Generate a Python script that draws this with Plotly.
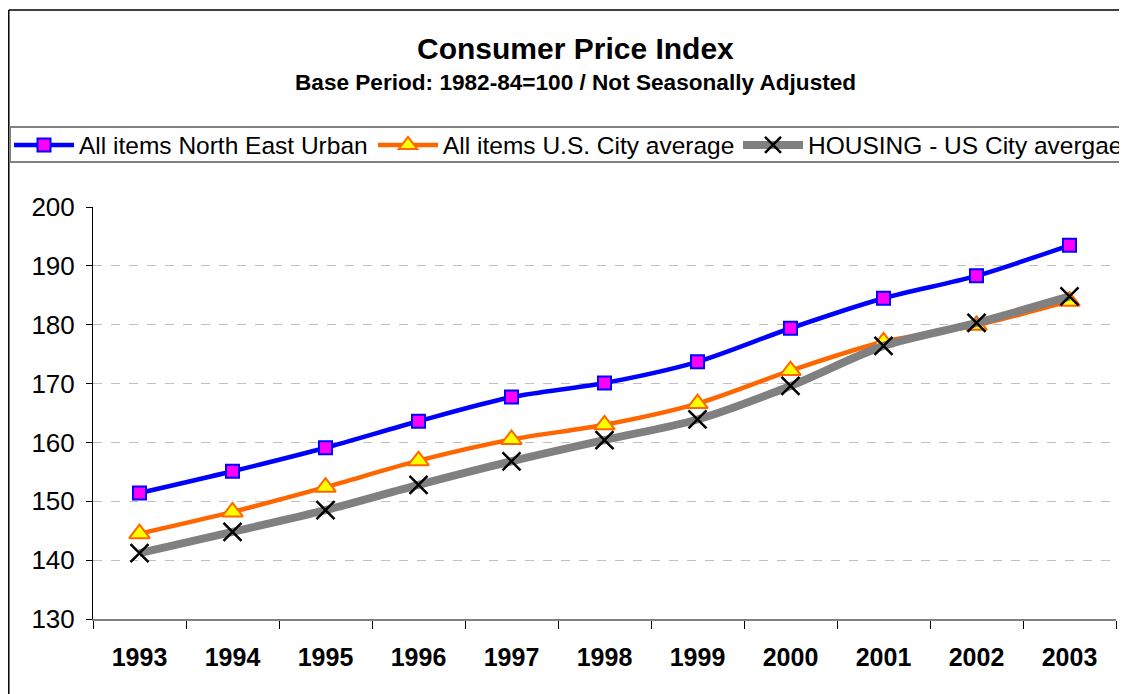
import plotly.graph_objects as go

years = ["1993", "1994", "1995", "1996", "1997", "1998", "1999", "2000", "2001", "2002", "2003"]
ne_urban = [151.4, 155.1, 159.1, 163.6, 167.7, 170.1, 173.7, 179.4, 184.5, 188.3, 193.5]
us_city = [144.5, 148.2, 152.4, 156.9, 160.5, 163.0, 166.6, 172.2, 177.1, 179.9, 184.0]
housing = [141.2, 144.8, 148.5, 152.8, 156.8, 160.4, 163.9, 169.6, 176.4, 180.3, 184.8]

names = ["All items North East Urban", "All items U.S. City average", "HOUSING - US City avergae"]

# page body has an 8px margin, so figure coordinates are screen coordinates minus 8
OFF = 8
W, H = 1127, 694
L, R, T, B = 93 - OFF, 1116 - OFF, 207 - OFF, 619 - OFF
FONT = "Liberation Sans, Arial, sans-serif"

def px(x):
    return (x - OFF - L) / (R - L)

def py(y):
    return (B - (y - OFF)) / (B - T)

fig = go.Figure()
fig.add_trace(go.Scatter(
    x=years, y=ne_urban, name=names[0], mode="lines+markers", legend="legend",
    line=dict(color="#0000ff", width=4.5, shape="spline", smoothing=0.8),
    marker=dict(symbol="square", size=13, color="#ff00ff", line=dict(color="#0000ff", width=2)),
))
fig.add_trace(go.Scatter(
    x=years, y=us_city, name=names[1], mode="lines+markers", legend="legend2",
    line=dict(color="#ff6600", width=4.5, shape="spline", smoothing=0.8),
    marker=dict(symbol="triangle-up", size=18, color="#ffff00", line=dict(color="#ff6600", width=2)),
))
fig.add_trace(go.Scatter(
    x=years, y=housing, name=names[2], mode="lines+markers", legend="legend3",
    line=dict(color="#808080", width=8, shape="spline", smoothing=0.8),
    marker=dict(symbol="x-thin", size=18, color="#000000", line=dict(color="#000000", width=2.5)),
))

def legend_at(xs):
    return dict(
        orientation="h", x=px(xs), xanchor="left", y=py(145), yanchor="middle",
        font=dict(size=24.5, family=FONT, color="black"), itemwidth=60,
        bgcolor="rgba(0,0,0,0)", borderwidth=0,
    )

fig.update_layout(
    width=W, height=H,
    margin=dict(l=L, r=W - R, t=T, b=H - B, pad=0, autoexpand=False),
    paper_bgcolor="white", plot_bgcolor="white",
    font=dict(family=FONT, color="black", size=24),
    showlegend=True,
    legend=legend_at(9),
    legend2=legend_at(373),
    legend3=legend_at(738),
    xaxis=dict(
        type="category", range=[-0.5, len(years) - 0.5], showgrid=False, showline=True,
        linecolor="#808080", linewidth=2,
        ticks="outside", ticklen=8, tickcolor="black", tickwidth=1, tickson="boundaries",
        tickfont=dict(size=25, family=FONT, color="black", weight="bold"),
        ticklabelstandoff=15, zeroline=False, fixedrange=True, automargin=False,
    ),
    yaxis=dict(
        range=[130, 200], dtick=10, tick0=130, showgrid=True, gridcolor="#c0c0c0",
        griddash="dash", gridwidth=1, showline=True, linecolor="black", linewidth=1,
        ticks="outside", ticklen=6, tickcolor="black", tickfont=dict(size=26, family=FONT),
        ticklabelstandoff=6, zeroline=False, fixedrange=True, automargin=False,
    ),
    shapes=[
        dict(type="line", xref="paper", yref="paper", x0=px(8.8), x1=px(8.8), y0=py(720), y1=py(10),
             line=dict(color="black", width=1.5), layer="below"),
        dict(type="line", xref="paper", yref="paper", x0=px(8.8), x1=px(1400), y0=py(10), y1=py(10),
             line=dict(color="black", width=1.5), layer="below"),
        dict(type="line", xref="paper", yref="paper", x0=px(10), x1=px(1400), y0=py(127), y1=py(127),
             line=dict(color="#808080", width=2), layer="below"),
        dict(type="line", xref="paper", yref="paper", x0=px(10), x1=px(1400), y0=py(162), y1=py(162),
             line=dict(color="#808080", width=2), layer="below"),
        dict(type="line", xref="paper", yref="paper", x0=px(10), x1=px(10), y0=py(162), y1=py(127),
             line=dict(color="#808080", width=2), layer="below"),
    ],
    annotations=[
        dict(text="<b>Consumer Price Index</b>", xref="paper", yref="paper", x=px(575), y=py(48),
             xanchor="center", yanchor="middle", showarrow=False, font=dict(size=30, family=FONT)),
        dict(text="<b>Base Period: 1982-84=100 / Not Seasonally Adjusted</b>", xref="paper", yref="paper",
             x=px(575), y=py(82), xanchor="center", yanchor="middle", showarrow=False,
             font=dict(size=22.6, family=FONT)),
    ],
)

fig.write_html("out.html")
